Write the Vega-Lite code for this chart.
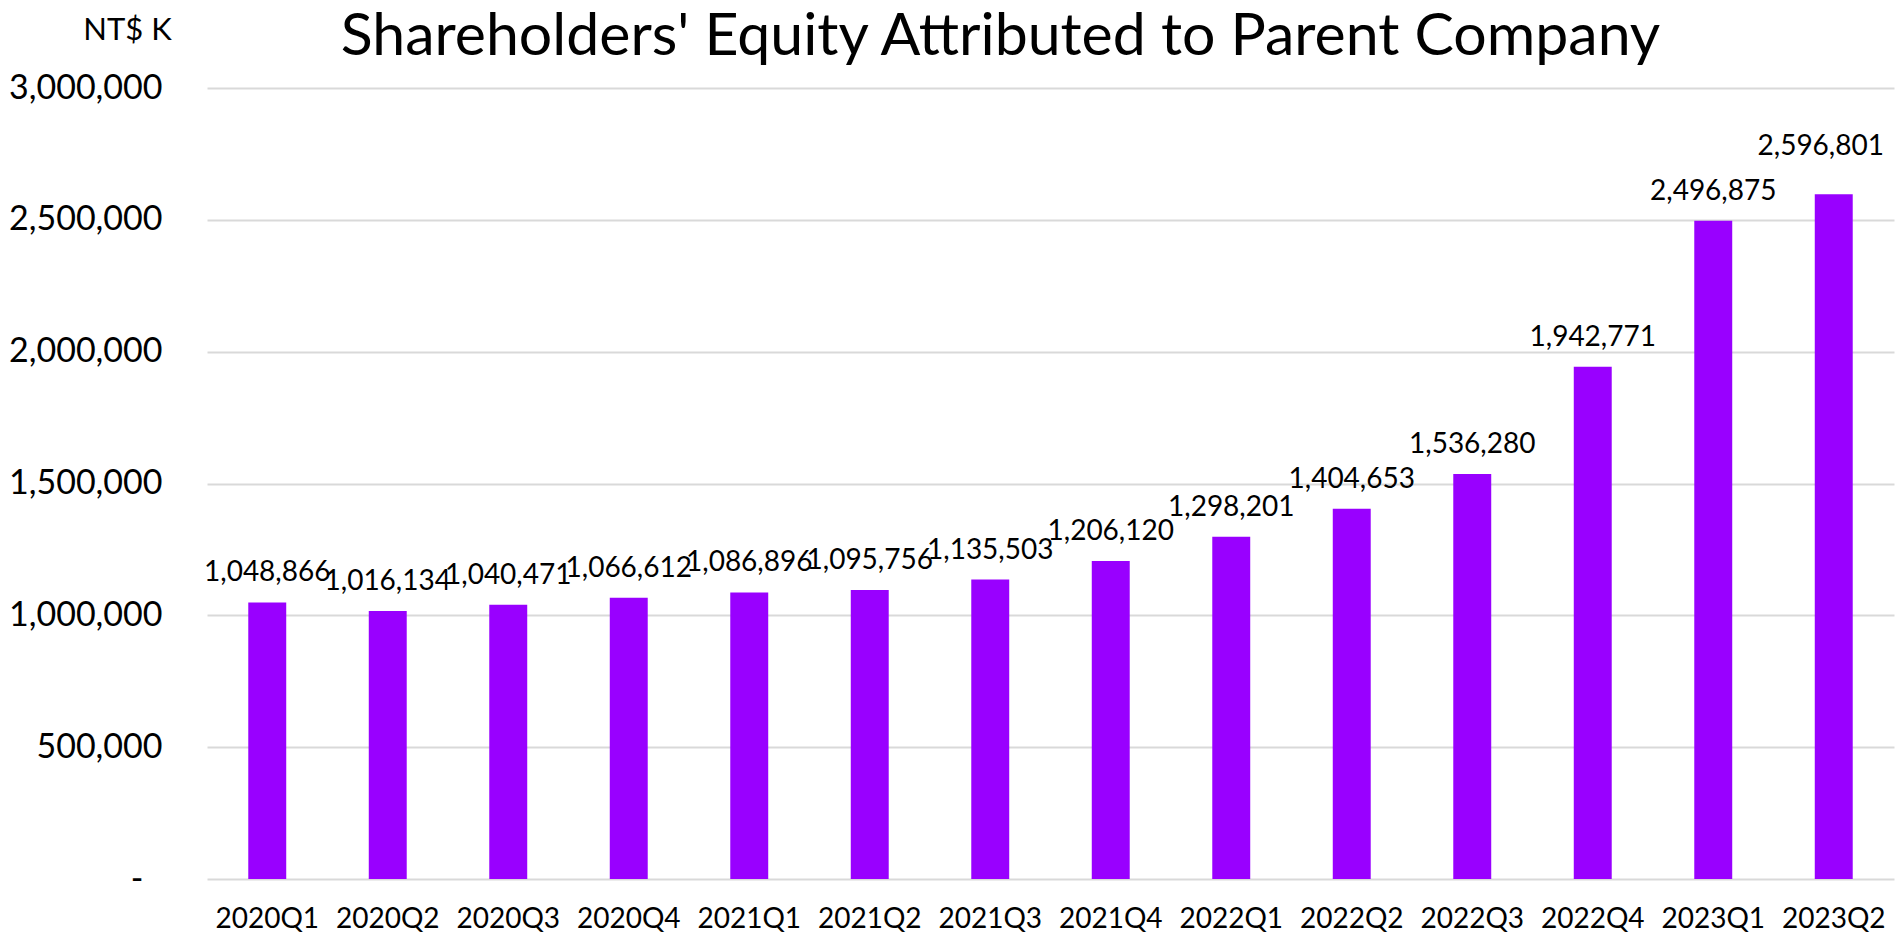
{
  "$schema": "https://vega.github.io/schema/vega-lite/v6.json",
  "width": 1687,
  "height": 791,
  "autosize": {"type": "none"},
  "padding": {"left": 207, "top": 88, "right": 1, "bottom": 54},
  "background": "white",
  "title": {
    "text": "Shareholders' Equity Attributed to Parent Company",
    "font": "Lato",
    "fontSize": 59,
    "fontWeight": "normal",
    "color": "#000000",
    "frame": "group",
    "anchor": "middle",
    "baseline": "alphabetic",
    "dx": -50,
    "dy": 100,
    "offset": 0
  },
  "data": {
    "values": [
      {"quarter": "2020Q1", "equity": 1048866},
      {"quarter": "2020Q2", "equity": 1016134},
      {"quarter": "2020Q3", "equity": 1040471},
      {"quarter": "2020Q4", "equity": 1066612},
      {"quarter": "2021Q1", "equity": 1086896},
      {"quarter": "2021Q2", "equity": 1095756},
      {"quarter": "2021Q3", "equity": 1135503},
      {"quarter": "2021Q4", "equity": 1206120},
      {"quarter": "2022Q1", "equity": 1298201},
      {"quarter": "2022Q2", "equity": 1404653},
      {"quarter": "2022Q3", "equity": 1536280},
      {"quarter": "2022Q4", "equity": 1942771},
      {"quarter": "2023Q1", "equity": 2496875},
      {"quarter": "2023Q2", "equity": 2596801}
    ]
  },
  "encoding": {
    "x": {
      "field": "quarter",
      "type": "nominal",
      "sort": null,
      "scale": {"paddingInner": 0.685, "paddingOuter": 0.3425},
      "axis": {
        "title": null,
        "labelAngle": 0,
        "labelFont": "Lato",
        "labelFontSize": 28,
        "labelColor": "#000000",
        "labelBaseline": "middle",
        "labelPadding": 40,
        "ticks": false,
        "tickSize": 0,
        "domain": false,
        "grid": false
      }
    },
    "y": {
      "field": "equity",
      "type": "quantitative",
      "scale": {"domain": [0, 3000000], "nice": false},
      "axis": {
        "title": "NT$ K",
        "titleFont": "Lato",
        "titleFontSize": 31,
        "titleFontWeight": "normal",
        "titleColor": "#000000",
        "titleAngle": 0,
        "titleAlign": "center",
        "titleBaseline": "middle",
        "titleX": -80,
        "titleY": -58,
        "values": [0, 500000, 1000000, 1500000, 2000000, 2500000, 3000000],
        "labelExpr": "datum.value == 0 ? '-' : format(datum.value, ',')",
        "labelFont": "Lato",
        "labelFontSize": 34,
        "labelColor": "#000000",
        "labelAlign": "right",
        "labelBaseline": "middle",
        "labelPadding": {"condition": {"test": "datum.value == 0", "value": 64}, "value": 45},
        "ticks": false,
        "tickSize": 0,
        "domain": false,
        "grid": true,
        "gridColor": "#d9d9d9",
        "gridWidth": 2
      }
    }
  },
  "layer": [
    {
      "mark": {"type": "bar", "color": "#9900ff"}
    },
    {
      "mark": {
        "type": "text",
        "font": "Lato",
        "fontSize": 28,
        "color": "#000000",
        "align": "center",
        "baseline": "alphabetic",
        "dx": {"expr": "datum.quarter == '2023Q2' ? -13 : 0"},
        "dy": {"expr": "datum.quarter == '2023Q2' ? -39 : -21"}
      },
      "encoding": {
        "text": {"field": "equity", "type": "quantitative", "format": ","}
      }
    }
  ],
  "config": {"view": {"stroke": null}}
}
